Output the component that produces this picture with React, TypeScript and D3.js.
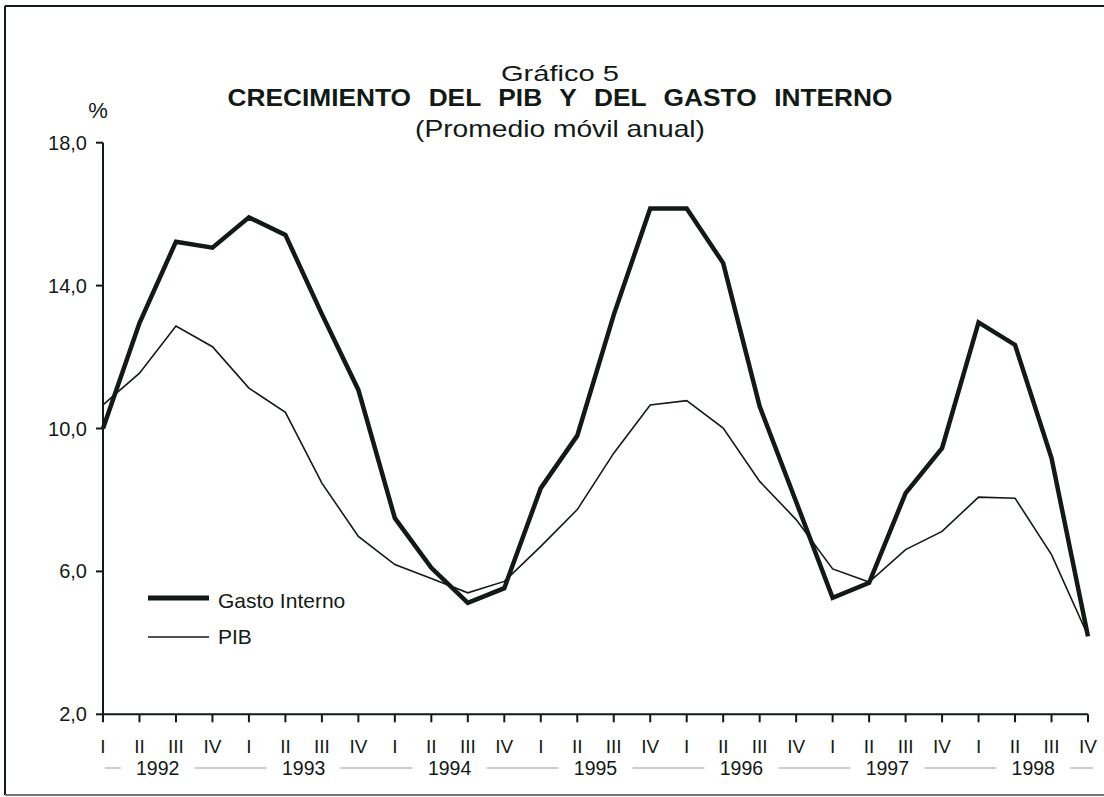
import React from "react";
import * as d3 from "d3";

const quarterLabels = ["I", "II", "III", "IV"];
const years = ["1992", "1993", "1994", "1995", "1996", "1997", "1998"];
const gastoInterno = [
  10.0, 12.95, 15.23, 15.06, 15.91, 15.42, 13.2, 11.08,
  7.49, 6.1, 5.12, 5.53, 8.33, 9.8, 13.18, 16.16,
  16.16, 14.63, 10.62, 7.95, 5.26, 5.68, 8.19, 9.45,
  12.97, 12.34, 9.17, 4.18,
];
const pib = [
  10.66, 11.55, 12.87, 12.29, 11.13, 10.45, 8.47, 6.98,
  6.19, 5.8, 5.4, 5.72, 6.7, 7.73, 9.31, 10.66,
  10.78, 10.01, 8.52, 7.45, 6.07, 5.7, 6.61, 7.12,
  8.08, 8.05, 6.47, 4.2,
];
const yTicks = [2, 6, 10, 14, 18];
const seriesNames = ["Gasto Interno", "PIB"];

const FONT = "'Liberation Sans', Arial, sans-serif";
const INK = "#121a15";

export default function App() {
  const W = 1104;
  const H = 797;
  const x = d3.scaleLinear().domain([0, gastoInterno.length - 1]).range([103, 1088]);
  const y = d3.scaleLinear().domain([2, 18]).range([714.3, 142.7]);
  const line = d3
    .line<number>()
    .x((_, i) => x(i))
    .y((d) => y(d))
    .curve(d3.curveLinear);

  const quarterTicks = d3.range(gastoInterno.length);
  const yearCenters = years.map((_, k) => x(k * 4 + 1.5));
  const halfGap = 37;
  const sepStarts = [x(0) + 2, ...yearCenters.map((c) => c + halfGap)];
  const sepEnds = [...yearCenters.map((c) => c - halfGap), x(gastoInterno.length - 1) + 5];

  return (
    <svg
      width={W}
      height={H}
      style={{ position: "absolute", left: 0, top: 0, background: "#fff" }}
      fontFamily={FONT}
    >
      <rect x={0} y={0} width={W} height={H} fill="#fff" />
      {/* frame */}
      <line x1={5} x2={W} y1={6} y2={6} stroke={INK} strokeWidth={2} />
      <line x1={5} x2={5} y1={6} y2={795} stroke={INK} strokeWidth={2} />
      <line x1={5} x2={W} y1={795} y2={795} stroke="#777" strokeWidth={2} />

      {/* titles */}
      <text x={560} y={81} textAnchor="middle" fontSize={22} fill={INK} textLength={118} lengthAdjust="spacingAndGlyphs">
        Gráfico 5
      </text>
      <text x={560} y={106} textAnchor="middle" fontSize={23} fontWeight="bold" fill={INK} textLength={665} lengthAdjust="spacingAndGlyphs" wordSpacing={9}>
        CRECIMIENTO DEL PIB Y DEL GASTO INTERNO
      </text>
      <text x={560} y={137} textAnchor="middle" fontSize={24} fill={INK} textLength={290} lengthAdjust="spacingAndGlyphs">
        (Promedio móvil anual)
      </text>
      <text x={98} y={118} textAnchor="middle" fontSize={22} fill={INK}>
        %
      </text>

      {/* y axis */}
      <line x1={x(0)} x2={x(0)} y1={y(18)} y2={y(2)} stroke={INK} strokeWidth={2} />
      {yTicks.map((t) => (
        <g key={t}>
          <line x1={x(0) - 7} x2={x(0)} y1={y(t)} y2={y(t)} stroke={INK} strokeWidth={2} />
          <text x={87} y={y(t)} dy="0.35em" textAnchor="end" fontSize={20} fill={INK}>
            {d3.format(".1f")(t).replace(".", ",")}
          </text>
        </g>
      ))}

      {/* x axis */}
      <line x1={x(0)} x2={x(gastoInterno.length - 1)} y1={y(2)} y2={y(2)} stroke={INK} strokeWidth={2} />
      {quarterTicks.map((i) => (
        <g key={i}>
          <line x1={x(i)} x2={x(i)} y1={y(2)} y2={y(2) + 8} stroke={INK} strokeWidth={2} />
          <text x={x(i)} y={753} textAnchor="middle" fontSize={19} fill={INK}>
            {quarterLabels[i % 4]}
          </text>
        </g>
      ))}
      {years.map((yr, k) => (
        <text key={yr} x={yearCenters[k]} y={775} textAnchor="middle" fontSize={19.5} fill={INK}>
          {yr}
        </text>
      ))}
      {sepStarts.map((s, k) => (
        <line key={k} x1={s} x2={sepEnds[k]} y1={768} y2={768} stroke="#999" strokeWidth={1} />
      ))}

      {/* series */}
      <path d={line(pib) || ""} fill="none" stroke={INK} strokeWidth={1.6} strokeLinejoin="miter" />
      <path d={line(gastoInterno) || ""} fill="none" stroke={INK} strokeWidth={4.5} strokeLinejoin="miter" />

      {/* legend */}
      <line x1={148} x2={209} y1={598} y2={598} stroke={INK} strokeWidth={5} />
      <text x={218} y={608} fontSize={21} fill={INK}>
        {seriesNames[0]}
      </text>
      <line x1={148} x2={209} y1={637} y2={637} stroke={INK} strokeWidth={1.6} />
      <text x={218} y={644} fontSize={21} fill={INK}>
        {seriesNames[1]}
      </text>
    </svg>
  );
}
